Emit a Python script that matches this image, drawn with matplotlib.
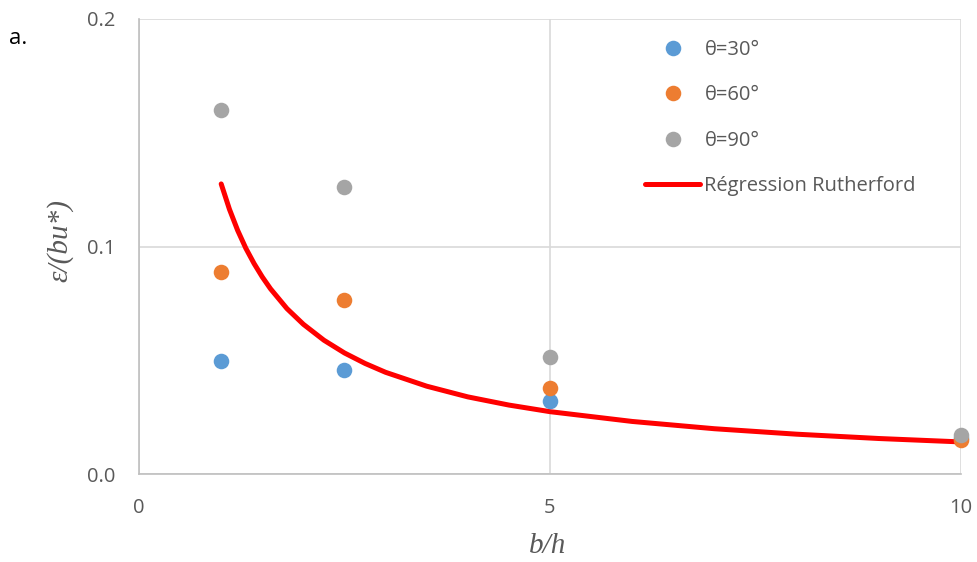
import matplotlib
matplotlib.use("Agg")
import matplotlib.pyplot as plt

# data
b_h = [1.0, 2.5, 5.0, 10.0]
theta30 = [0.0497, 0.0457, 0.0320, 0.0160]
theta60 = [0.0888, 0.0765, 0.0378, 0.0150]
theta90 = [0.1600, 0.1262, 0.0514, 0.0171]
reg_x = [1.0, 1.1, 1.2, 1.3, 1.4, 1.5, 1.6, 1.8, 2.0, 2.25, 2.5, 2.75, 3.0, 3.5, 4.0, 4.5,
         5.0, 6.0, 7.0, 8.0, 9.0, 10.0]
reg_y = [0.1275, 0.1164, 0.1071, 0.0992, 0.0925, 0.0866, 0.0814, 0.0727, 0.0658, 0.0588,
         0.0532, 0.0486, 0.0447, 0.0386, 0.0339, 0.0303, 0.0274, 0.0231, 0.0199, 0.0175,
         0.0156, 0.0141]
labels = ["θ=30°", "θ=60°", "θ=90°", "Régression Rutherford"]
x_ticks = [0, 5, 10]
y_ticks = [0.0, 0.1, 0.2]
y_ticklabels = ["0.0", "0.1", "0.2"]

W, H = 978, 562
fig = plt.figure(figsize=(W / 100, H / 100), dpi=100)
ax = fig.add_axes([139 / W, 1 - 474 / H, (961 - 139) / W, (474 - 19) / H])

grid_c = "#d9d9d9"
txt_c = "#595959"
font = "Open Sans"

ax.set_xlim(0, 10)
ax.set_ylim(0, 0.2)
ax.set_xticks(x_ticks)
ax.set_yticks(y_ticks)
ax.set_yticklabels(y_ticklabels)
ax.grid(True, color=grid_c, linewidth=1.2, zorder=0)
ax.set_axisbelow(True)
for s in ["top", "right"]:
    ax.spines[s].set_visible(False)
for s in ["left", "bottom"]:
    ax.spines[s].set_color("#bfbfbf")
    ax.spines[s].set_linewidth(1.2)
ax.tick_params(length=0, labelsize=14.5, labelcolor=txt_c)
ax.tick_params(axis="x", pad=17)
ax.tick_params(axis="y", pad=17)
for lab in ax.get_xticklabels() + ax.get_yticklabels():
    lab.set_family(font)

ms = 11.2
h1, = ax.plot(b_h, theta30, "o", color="#5B9BD5", ms=ms, mec="none", zorder=3, clip_on=False)
h2, = ax.plot(b_h, theta60, "o", color="#ED7D31", ms=ms, mec="none", zorder=3, clip_on=False)
h3, = ax.plot(b_h, theta90, "o", color="#A5A5A5", ms=ms, mec="none", zorder=3, clip_on=False)
h4, = ax.plot(reg_x, reg_y, "-", color="#FF0000", lw=3.6, zorder=2,
              solid_capstyle="round", solid_joinstyle="round")

leg = fig.legend([h1, h2, h3, h4], labels, loc="upper left",
                 bbox_to_anchor=(645 / W, 1 - 40 / H), frameon=False,
                 handlelength=2.75, handletextpad=0.2, labelspacing=1.26,
                 borderpad=0, borderaxespad=0,
                 prop={"family": font, "size": 14.5})
for t in leg.get_texts():
    t.set_color(txt_c)

fig.text(60 / W, 1 - 240 / H, "ε/(bu*)", rotation=90, ha="center", va="center",
         family="Liberation Serif", style="italic", fontsize=21, color=txt_c)
fig.text(548 / W, 1 - 546 / H, "b/h", ha="center", va="center",
         family="Liberation Serif", style="italic", fontsize=21, color=txt_c)
fig.text(9 / W, 1 - 38 / H, "a.", ha="left", va="center", family=font,
         fontsize=16, color="black")

fig.savefig("out.png", dpi=100)
